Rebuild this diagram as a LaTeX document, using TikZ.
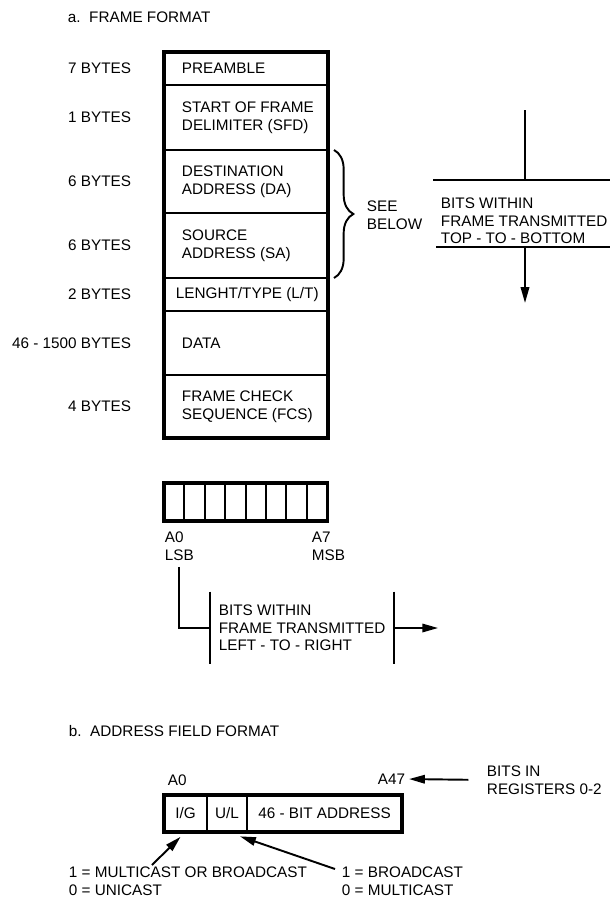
\documentclass[tikz,border=0pt]{standalone}
\usepackage{fontspec}
\setmainfont{Liberation Sans}
\usetikzlibrary{arrows.meta,decorations.pathreplacing,positioning}

\begin{document}
\begin{tikzpicture}[x=0.02cm,y=-0.02cm,line width=1.1pt,
    font=\fontsize{8.7}{10}\selectfont,
    >={Triangle[length=9pt,width=4.8pt]}]
  \tikzset{
    lbl/.style={inner sep=0pt,anchor=west,align=left},
    bitcell/.style={draw,inner sep=0pt,outer sep=0pt,minimum width=11.6pt,minimum height=21.6pt},
    addrcell/.style={draw,inner sep=0pt,outer sep=0pt,minimum height=21pt},
    thickbox/.style={line width=1.9pt}
  }
  \useasboundingbox (0,0) rectangle (610,903);
  \node[lbl] (titlea) at (67,17) {a.\ \ FRAME FORMAT};
  % frame fields
  \foreach \a/\b/\x/\f/\n [count=\i] in {52/85/181/{PREAMBLE}/{7 BYTES},
      85/150/181/{START OF FRAME\\DELIMITER (SFD)}/{1 BYTES},
      150/213/181/{DESTINATION\\ADDRESS (DA)}/{6 BYTES},
      213/278/181/{SOURCE\\ADDRESS (SA)}/{6 BYTES},
      278/311/175/{LENGHT/TYPE (L/T)}/{2 BYTES},
      311/375/181/{DATA}/{46 - 1500 BYTES},
      375/438/181/{FRAME CHECK\\SEQUENCE (FCS)}/{4 BYTES}} {
    \draw (164,\a) rectangle (328,\b);
    \node[lbl] (field\i) at (\x,{(\a+\b)/2}) {\f};
    \node[lbl,anchor=east] (size\i) at (132,{(\a+\b)/2}) {\n};
  }
  \draw[thickbox] (164,52) rectangle (328,438);
  % see below
  \draw[decorate,decoration={brace,amplitude=11pt}] (334,150) -- (334,278);
  \node[lbl] (see) at (366,215) {SEE\\BELOW};
  % top to bottom
  \node[lbl] (ttb) at (440,221) {BITS WITHIN\\FRAME TRANSMITTED\\TOP - TO - BOTTOM};
  \coordinate (ttbin) at (525,110);
  \coordinate (ttbup) at (525,180);
  \coordinate (ttbdown) at (525,247);
  \coordinate (ttbout) at (525,303);
  \draw (433,180) -- (610,180);
  \draw (436,247) -- (610,247);
  \draw (ttbin) -- (ttbup);
  \draw[->] (ttbdown) -- (ttbout);
  % byte register
  \foreach \k in {0,...,7}
    \node[bitcell,anchor=north west] (bit\k) at ({164+\k*20.4},483) {};
  \draw[thickbox] (bit0.north west) rectangle (bit7.south east);
  \node[lbl] (lsb) at (164,546.5) {A0\\LSB};
  \node[lbl] (msb) at (311,546.5) {A7\\MSB};
  % left to right
  \node[lbl,inner xsep=4.5pt,minimum height=40.4pt] (ltr) at (210,628)
    {BITS WITHIN\\FRAME TRANSMITTED\\LEFT - TO - RIGHT};
  \draw (ltr.north west) -- (ltr.south west);
  \draw (ltr.north east) -- (ltr.south east);
  \coordinate[right=25pt of ltr.east] (ltrout);
  \draw[->] (ltr.east) -- (ltrout);
  \draw ([yshift=-3pt]lsb.south) |- (ltr.west);
  % address field
  \node[lbl] (titleb) at (68,731) {b.\ \ ADDRESS FIELD FORMAT};
  \node[lbl] (a0) at (167,780) {A0};
  \node[addrcell,anchor=north west,minimum width=24.5pt] (ig) at (164,795) {I/G};
  \node[addrcell,right=0pt of ig,minimum width=22.8pt] (ul) {U/L};
  \node[addrcell,right=0pt of ul,minimum width=88.2pt] (addr) {46 - BIT ADDRESS};
  \draw[thickbox] (ig.north west) rectangle (addr.south east);
  \node[lbl,anchor=east] (a47) at (406,779) {A47};
  \node[lbl] (regs) at (486,780) {BITS IN\\REGISTERS 0-2};
  \draw[->,shorten <=10pt,shorten >=1.7pt] (regs.west) -- (a47.east);
  % bit meanings
  \node[lbl] (mc) at (68,881) {1 = MULTICAST OR BROADCAST\\0 = UNICAST};
  \node[lbl] (bc) at (341,881) {1 = BROADCAST\\0 = MULTICAST};
  \coordinate (igfoot) at (152,865);
  \coordinate (ulfoot) at (335,869);
  \draw[->,shorten >=4pt] (igfoot) -- (ig.south);
  \draw[->,shorten >=7.8pt] (ulfoot) -- (ul.south);
\end{tikzpicture}
\end{document}
